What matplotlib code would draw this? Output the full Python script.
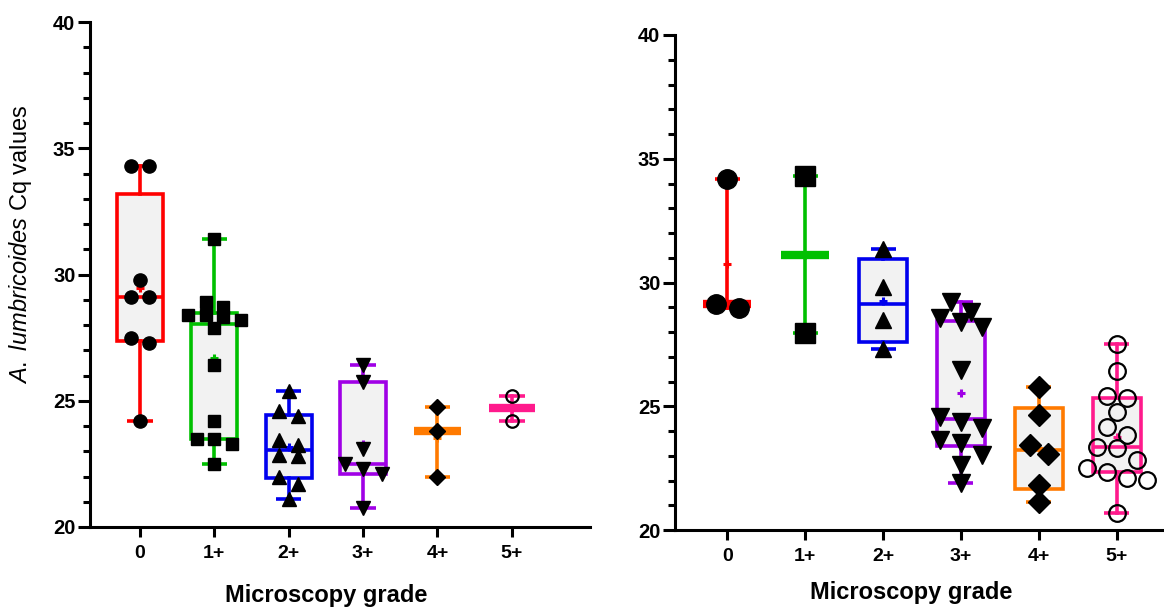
import numpy as np
import matplotlib.pyplot as plt
from matplotlib.patches import Rectangle
from matplotlib.ticker import MultipleLocator

plt.rcParams['font.family'] = 'Liberation Sans'
plt.rcParams['mathtext.fontset'] = 'custom'
plt.rcParams['mathtext.it'] = 'Liberation Sans:italic'
plt.rcParams['mathtext.rm'] = 'Liberation Sans'

grades = ['0', '1+', '2+', '3+', '4+', '5+']
colors = ['#ff0000', '#00c000', '#0000ee', '#a000e6', '#ff7a00', '#ff1a8c']
markers = ['o', 's', '^', 'v', 'D', 'o']
filled = [True, True, True, True, True, False]

# Cq values per microscopy grade, left panel
cq_left = [
    [34.3, 34.3, 29.8, 29.1, 29.1, 27.5, 27.3, 24.2],
    [31.4, 28.9, 28.7, 28.4, 28.4, 28.3, 28.2, 27.9, 26.4, 24.2, 23.5, 23.5, 23.3, 22.5],
    [25.4, 24.6, 24.4, 23.45, 23.25, 22.85, 22.8, 22.0, 21.7, 21.1],
    [26.4, 25.75, 23.1, 22.5, 22.3, 22.1, 20.75],
    [24.75, 23.8, 22.0],
    [25.2, 24.2],
]

# Cq values per microscopy grade, right panel
cq_right = [
    [34.2, 29.13, 28.96],
    [34.3, 27.95],
    [31.35, 29.8, 28.5, 27.3],
    [29.23, 28.82, 28.55, 28.42, 28.21, 26.46, 24.58, 24.38, 24.11, 23.64, 23.5,
     23.03, 22.63, 21.89],
    [25.79, 24.65, 23.43, 23.07, 21.82, 21.14],
    [27.52, 26.44, 25.43, 25.32, 24.78, 24.17, 23.84, 23.37, 23.3, 22.83, 22.49,
     22.36, 22.09, 22.02, 20.7],
]

W, H = 1164, 608
LW = 2.6


def spread_rows(vals, d, step, ky):
    # points closer than one marker height share a row and are centred side by side
    v = np.asarray(vals, dtype=float)
    order = np.argsort(-v)
    offs = np.zeros(len(v))
    row = []
    for idx in list(order) + [None]:
        if idx is not None and row and (v[row[0]] - v[idx]) * ky < d:
            row.append(idx)
            continue
        if row:
            k = len(row)
            for j, r in enumerate(row):
                offs[r] = (j - (k - 1) / 2) * step
        row = [idx] if idx is not None else []
    return offs


def draw_group(ax, x, v, color, marker, ms, fill, box_w, cap_w, spread, kx, ky):
    v = np.asarray(v)
    q1, med, q3 = np.percentile(v, [25, 50, 75], method='weibull')
    lo, hi, mean = v.min(), v.max(), v.mean()
    if len(v) > 3:
        ax.add_patch(Rectangle((x - box_w / 2, q1), box_w, q3 - q1, facecolor='#f2f2f2',
                               edgecolor=color, lw=LW, joinstyle='miter', zorder=2))
        ax.plot([x - box_w / 2, x + box_w / 2], [med, med], color=color, lw=LW,
                solid_capstyle='butt', zorder=3)
        ax.plot([x, x], [q3, hi], color=color, lw=LW, zorder=2)
        ax.plot([x, x], [lo, q1], color=color, lw=LW, zorder=2)
    else:
        ax.plot([x, x], [lo, hi], color=color, lw=LW, zorder=2)
        ax.plot([x - box_w / 2, x + box_w / 2], [med, med], color=color, lw=6,
                solid_capstyle='butt', zorder=3)
    for end in (lo, hi):
        ax.plot([x - cap_w / 2, x + cap_w / 2], [end, end], color=color, lw=LW,
                solid_capstyle='butt', zorder=2)
    ax.plot([x], [mean], marker='+', color=color, ms=6, mew=2.2, zorder=4)

    d_px = ms * 100 / 72
    offs = spread_rows(v, d_px * 0.9, d_px * spread, ky) / kx
    if fill:
        ax.plot(x + offs, v, ls='none', marker=marker, ms=ms, mfc='black', mec='black',
                zorder=5)
    else:
        ax.plot(x + offs, v, ls='none', marker='o', ms=ms, mfc='none', mec='black',
                mew=1.6, zorder=5)


def style_axes(ax):
    for s in ('top', 'right'):
        ax.spines[s].set_visible(False)
    for s in ('left', 'bottom'):
        ax.spines[s].set_linewidth(2.2)
    ax.set_ylim(20, 40)
    ax.set_yticks(range(20, 41, 5))
    ax.yaxis.set_minor_locator(MultipleLocator(1))
    ax.set_xticks(range(len(grades)))
    ax.set_xticklabels(grades)
    ax.tick_params(axis='y', which='major', length=8.5, width=2.2, labelsize=14.5, pad=2)
    ax.tick_params(axis='y', which='minor', length=5, width=2.2)
    ax.tick_params(axis='x', which='major', length=7, width=2.2, labelsize=14, pad=6)
    for lab in ax.get_xticklabels() + ax.get_yticklabels():
        lab.set_fontweight('bold')
    ax.set_xlabel('Microscopy grade', fontsize=17, fontweight='bold')


fig = plt.figure(figsize=(W / 100, H / 100), dpi=100)

panels = [
    dict(data=cq_left, pos=[90 / W, 1 - 527 / H, 500 / W, 505 / H], xlim=(-0.67, 6.05),
         box_w=0.62, cap_w=0.34, ms=[9.5, 9, 9.5, 9.5, 8, 9], spread=1.4,
         xlab=(0.472, -0.112)),
    dict(data=cq_right, pos=[675 / W, 1 - 530 / H, 487 / W, 495 / H], xlim=(-0.67, 5.58),
         box_w=0.62, cap_w=0.32, ms=[14, 14, 12, 12.5, 11, 12], spread=1.2,
         xlab=(0.485, -0.104)),
]

axes = []
for p in panels:
    ax = fig.add_axes(p['pos'])
    ax.set_xlim(*p['xlim'])
    style_axes(ax)
    kx = p['pos'][2] * W / (p['xlim'][1] - p['xlim'][0])
    ky = p['pos'][3] * H / 20.0
    for i, vals in enumerate(p['data']):
        draw_group(ax, i, vals, colors[i], markers[i], p['ms'][i], filled[i],
                   p['box_w'], p['cap_w'], p['spread'], kx, ky)
    ax.xaxis.set_label_coords(*p['xlab'])
    axes.append(ax)

axes[0].set_ylabel(r'$\mathit{A.\ lumbricoides}$ Cq values', fontsize=17)
axes[0].yaxis.set_label_coords(-0.112, 0.56)

fig.savefig('out.png', dpi=100)
